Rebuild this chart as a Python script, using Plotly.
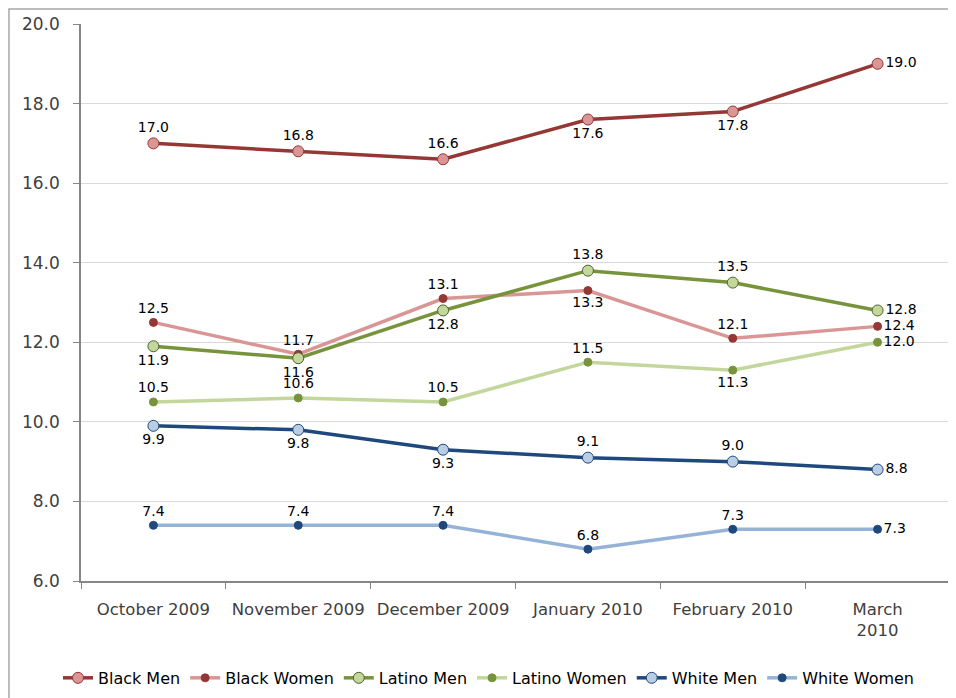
import plotly.graph_objects as go

months = ["October 2009", "November 2009", "December 2009", "January 2010", "February 2010", "March 2010"]
tick_labels = ["October 2009", "November 2009", "December 2009", "January 2010", "February 2010", "March<br>2010"]

black_men = [17.0, 16.8, 16.6, 17.6, 17.8, 19.0]
black_women = [12.5, 11.7, 13.1, 13.3, 12.1, 12.4]
latino_men = [11.9, 11.6, 12.8, 13.8, 13.5, 12.8]
latino_women = [10.5, 10.6, 10.5, 11.5, 11.3, 12.0]
white_men = [9.9, 9.8, 9.3, 9.1, 9.0, 8.8]
white_women = [7.4, 7.4, 7.4, 6.8, 7.3, 7.3]

series = [
    ("Black Men", black_men, "#953735", "#D99694", "#953735", 11,
     ["top center", "top center", "top center", "bottom center", "bottom center", "middle right"]),
    ("Black Women", black_women, "#D99694", "#953735", "#953735", 8,
     ["top center", "top center", "top center", "bottom center", "top center", "middle right"]),
    ("Latino Men", latino_men, "#77933C", "#C3D69B", "#4F6228", 11,
     ["bottom center", "bottom center", "bottom center", "top center", "top center", "middle right"]),
    ("Latino Women", latino_women, "#C3D69B", "#77933C", "#77933C", 8,
     ["top center", "top center", "top center", "top center", "bottom center", "middle right"]),
    ("White Men", white_men, "#1F497D", "#B9CDE5", "#1F497D", 11,
     ["bottom center", "bottom center", "bottom center", "top center", "top center", "middle right"]),
    ("White Women", white_women, "#95B3D7", "#1F497D", "#1F497D", 8,
     ["top center", "top center", "top center", "top center", "top center", "middle right"]),
]

FONT = "DejaVu Sans"
fig = go.Figure()
for name, vals, lc, mc, mlc, ms, pos in series:
    fig.add_trace(go.Scatter(
        x=months, y=vals, name=name, mode="lines+markers+text",
        line=dict(color=lc, width=3.5),
        marker=dict(color=mc, size=ms, line=dict(color=mlc, width=1)),
        text=[f"{v:.1f}" for v in vals], textposition=pos,
        textfont=dict(family=FONT, size=14, color="#000000"),
        cliponaxis=False,
    ))

# The page body adds an 8px offset; figure is sized to fill the rest of the window.
fig.update_layout(
    width=948, height=690,
    margin=dict(l=73, r=6, t=16, b=117, autoexpand=False),
    paper_bgcolor="white", plot_bgcolor="white",
    font=dict(family=FONT, color="#404040"),
    showlegend=True,
    legend=dict(orientation="h", x=0.4695, xanchor="center", y=-0.174, yanchor="middle",
                font=dict(family=FONT, size=16, color="#000000"),
                itemwidth=30, tracegroupgap=0),
    xaxis=dict(type="category", tickvals=months, ticktext=tick_labels, tickson="boundaries",
               range=[-0.5, 5.5], showline=True, linecolor="#868686", linewidth=1.5,
               ticks="outside", ticklen=6, tickcolor="#868686", showgrid=False, automargin=False,
               ticklabelstandoff=12, tickangle=0,
               tickfont=dict(family=FONT, size=16.5, color="#404040")),
    yaxis=dict(range=[6, 20], dtick=2, tickformat=".1f", showline=True, linecolor="#868686",
               linewidth=1.5, ticks="outside", ticklen=6, tickcolor="#868686", automargin=False,
               ticklabelstandoff=10,
               showgrid=True, gridcolor="#D9D9D9", gridwidth=1.2, zeroline=False,
               tickfont=dict(family=FONT, size=17, color="#404040")),
    shapes=[dict(type="rect", xref="paper", yref="paper", x0=-72 / 869, x1=1.03, y0=-0.3,
                 y1=1 + 15 / 557,
                 line=dict(color="#A6A6A6", width=1.5), fillcolor="rgba(0,0,0,0)", layer="below")],
)

fig.write_html("out.html")
